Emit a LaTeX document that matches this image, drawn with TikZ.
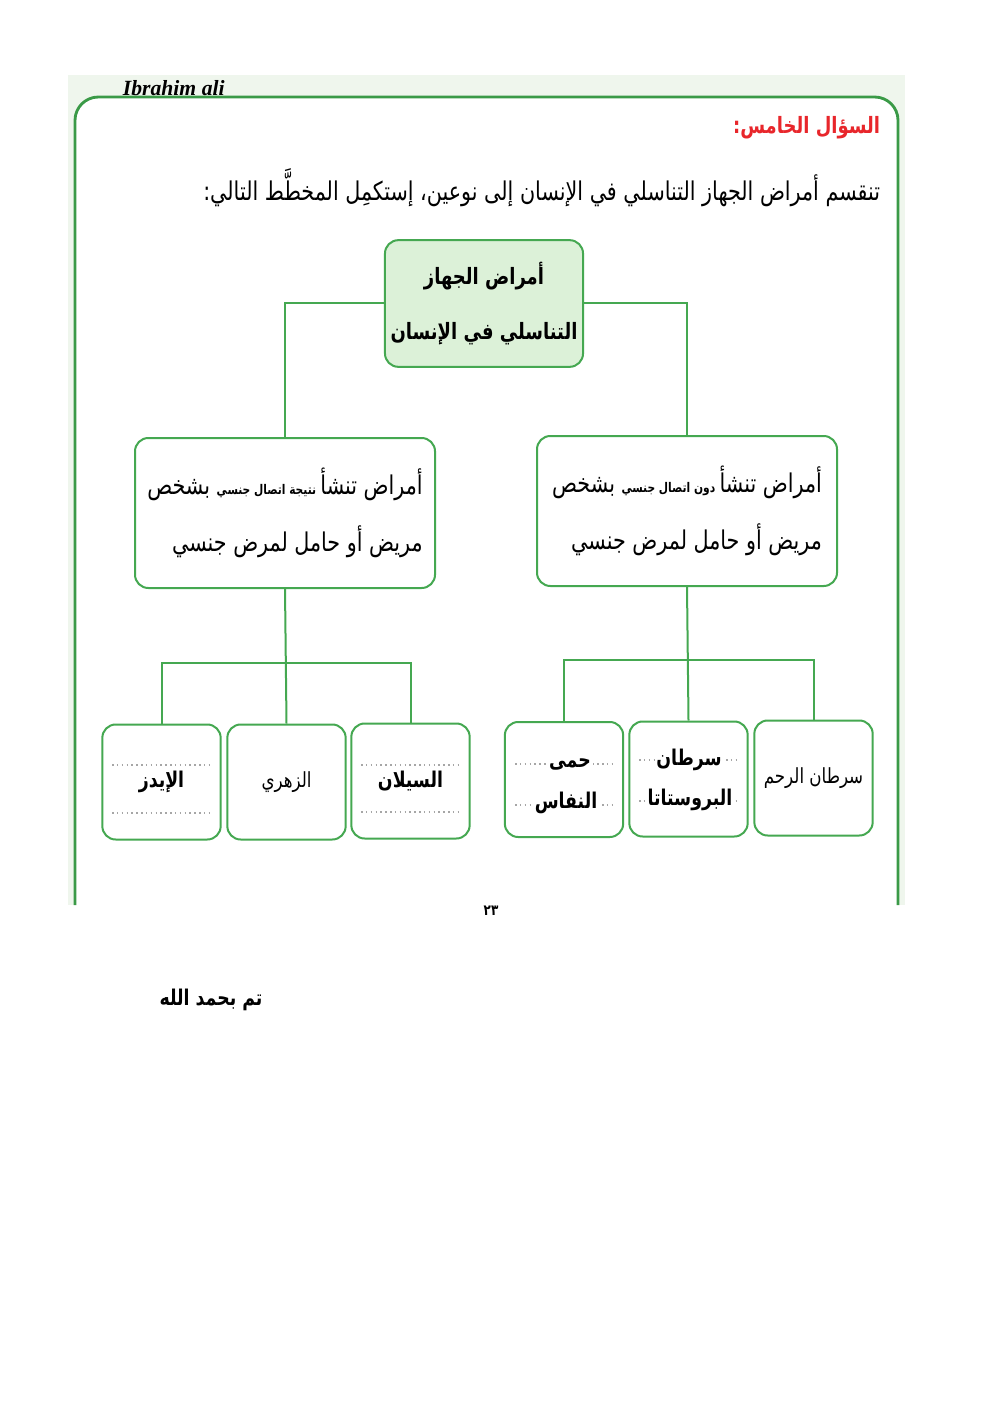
\documentclass[tikz,border=0pt]{standalone}
\usepackage{fontspec}
\setmainfont{Liberation Serif}
\newfontfamily\arabicfont[Script=Arabic, FakeStretch=0.8]{DejaVu Sans}
\TeXXeTstate=1
\definecolor{boxgreen}{HTML}{45A851}
\definecolor{framegreen}{HTML}{3A9A47}
\definecolor{topfill}{HTML}{DCF1D8}
\definecolor{scantint}{HTML}{EFF6ED}
\definecolor{titlered}{HTML}{E8262B}
\begin{document}
\begin{tikzpicture}[x=0.6pt,y=-0.6pt,
  topbox/.style={draw=boxgreen, fill=topfill, line width=1.2pt, rounded corners=8pt, minimum width=115pt, minimum height=76pt, align=center, font=\arabicfont\bfseries\fontsize{13.5}{33}\selectfont},
  midbox/.style={draw=boxgreen, fill=white, line width=1.2pt, rounded corners=8pt, minimum width=180pt, minimum height=90pt, inner sep=2pt, align=right, font=\arabicfont\fontsize{15.5}{34}\selectfont},
  leafbox/.style={draw=boxgreen, fill=white, line width=1.2pt, rounded corners=8pt, minimum width=71pt, minimum height=69pt, inner sep=2pt, align=center, font=\arabicfont\fontsize{12.5}{16}\selectfont},
  leafword/.style={fill=white, inner sep=1pt, font=\arabicfont\bfseries\fontsize{13}{15}\selectfont},
  dotline/.style={draw=gray!70, dotted, line width=0.9pt},
  link/.style={draw=boxgreen, line width=1.2pt}
]
\useasboundingbox (0,0) rectangle (992,1403);

% scanned page and its frame
\fill[scantint] (68,75) rectangle (905,905);
\fill[white, rounded corners=14pt] (75,97) rectangle (898,930);
\fill[white] (60,905) rectangle (912,935);
\draw[framegreen, line width=1.7pt, rounded corners=14pt] (75,905) -- (75,97) -- (898,97) -- (898,905);

\node[anchor=west, font=\bfseries\itshape\fontsize{13}{15}\selectfont] (author) at (117,88) {Ibrahim ali};
\node[anchor=east, text=titlered, font=\arabicfont\bfseries\fontsize{13.5}{16}\selectfont] (title) at (886,128) {\beginR السؤال الخامس:\endR};
\node[anchor=east, font=\arabicfont\fontsize{15.5}{18}\selectfont] (question) at (886,188) {\beginR تنقسم أمراض الجهاز التناسلي في الإنسان إلى نوعين، إستكمِل المخطَّط التالي:\endR};

% tree
\node[topbox] (root) at (484,303.5) {\beginR أمراض الجهاز\endR\\\beginR التناسلي في الإنسان\endR};
\node[midbox] (sexual) at (285,513) {\beginR أمراض تنشأ\,{\bfseries\fontsize{8}{10}\selectfont نتيجة اتصال جنسي} بشخص\endR\\\beginR مريض أو حامل لمرض جنسي\endR};
\node[midbox] (nonsexual) at (687,511) {\beginR أمراض تنشأ\,{\bfseries\fontsize{8}{10}\selectfont دون اتصال جنسي} بشخص\endR\\\beginR مريض أو حامل لمرض جنسي\endR};

\node[leafbox, font=\arabicfont\bfseries\fontsize{13}{15}\selectfont] (aids) at (161.5,782) {\beginR الإيدز\endR};
\node[leafbox] (syphilis) at (286.5,782) {\beginR الزهري\endR};
\node[leafbox, font=\arabicfont\bfseries\fontsize{13}{15}\selectfont] (gonorrhea) at (410.5,781) {\beginR السيلان\endR};
\node[leafbox] (puerperal) at (564,779.5) {};
\node[leafbox] (prostate) at (688.5,779) {};
\node[leafbox] (uterine) at (813.5,778) {\beginR سرطان الرحم\endR};

% dotted answer lines
\draw[dotline] (112,765) -- (211,765);
\draw[dotline] (112,813) -- (211,813);
\draw[dotline] (361,765) -- (460,765);
\draw[dotline] (361,812) -- (460,812);
\draw[dotline] (515,764) -- (613,764);
\draw[dotline] (515,805) -- (613,805);
\draw[dotline] (639,760) -- (738,760);
\draw[dotline] (639,801) -- (738,801);
\node[leafword] (puerperal1) at (570,764) {\beginR حمى\endR};
\node[leafword] (puerperal2) at (566,803) {\beginR النفاس\endR};
\node[leafword] (prostate1) at (689,760) {\beginR سرطان\endR};
\node[leafword] (prostate2) at (690,800) {\beginR البروستاتا\endR};

% connectors
\draw[link] (root.west) -| (sexual.north);
\draw[link] (root.east) -| (nonsexual.north);
\coordinate (lbar) at (286.5,663);
\coordinate (rbar) at (688.5,660);
\draw[link] (sexual.south) -- (syphilis.north);
\draw[link] (aids.north) |- (lbar) -| (gonorrhea.north);
\draw[link] (nonsexual.south) -- (prostate.north);
\draw[link] (puerperal.north) |- (rbar) -| (uterine.north);

% footer
\node[font=\arabicfont\bfseries\fontsize{9}{11}\selectfont] (pagenum) at (491,911) {٢٣};
\node[font=\arabicfont\bfseries\fontsize{13}{15}\selectfont] (closing) at (211,1000) {\beginR تم بحمد الله\endR};
\end{tikzpicture}
\end{document}
